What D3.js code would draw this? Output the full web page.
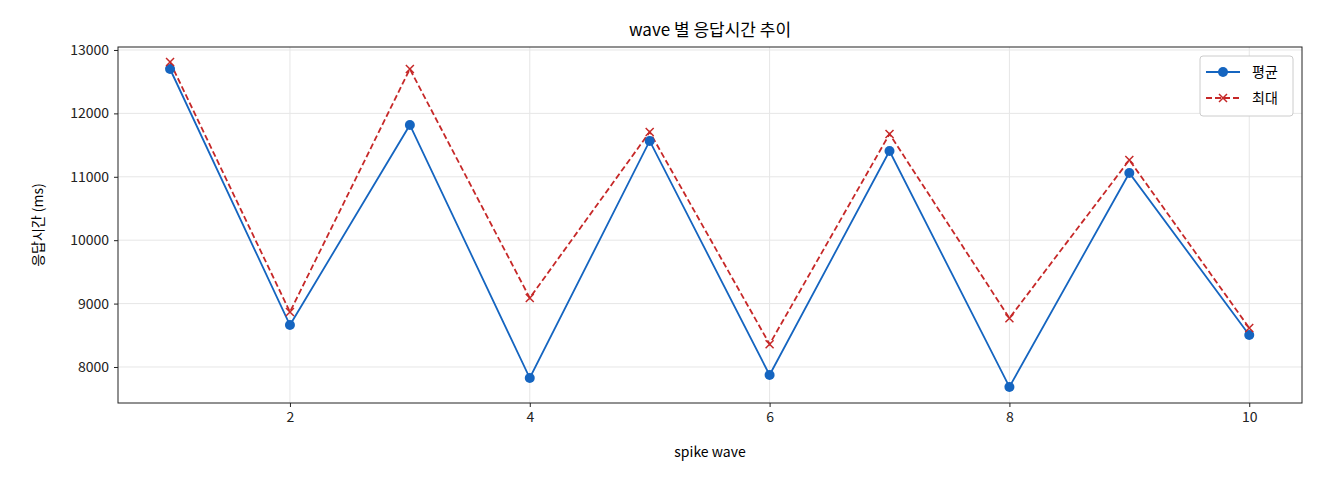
<!DOCTYPE html>
<html><head><meta charset="utf-8">
<script src="https://cdn.jsdelivr.net/npm/d3@7"></script>
<style>body{margin:0;background:#fff}text{font-family:"Noto Sans CJK KR","DejaVu Sans",sans-serif}</style>
</head><body><svg id="c" width="1320" height="480"></svg>
<script>
const waves=[1,2,3,4,5,6,7,8,9,10];
const avgValues=[12700,8662,11817,7826,11565,7874,11407,7685,11060,8505];
const maxValues=[12810,8867,12700,9088,11707,8360,11675,8770,11265,8615];
const xTicks=[2,4,6,8,10];
const yTicks=[8000,9000,10000,11000,12000,13000];
const svg=d3.select("#c");
const L=118,R=1302,T=47,B=403;
const x=d3.scaleLinear().domain([0.566,10.44]).range([L,R]);
const y=d3.scaleLinear().domain([7432,13047]).range([B,T]);
const g=svg.append("g");
g.selectAll(".gx").data(xTicks).enter().append("line").attr("x1",d=>x(d)).attr("x2",d=>x(d)).attr("y1",T).attr("y2",B).attr("stroke","#e6e6e6");
g.selectAll(".gy").data(yTicks).enter().append("line").attr("y1",d=>y(d)).attr("y2",d=>y(d)).attr("x1",L).attr("x2",R).attr("stroke","#e6e6e6");
const xa=svg.append("g").attr("transform",`translate(0,${B})`).call(d3.axisBottom(x).tickValues(xTicks).tickSize(4).tickPadding(5));
const ya=svg.append("g").attr("transform",`translate(${L},0)`).call(d3.axisLeft(y).tickValues(yTicks).tickSize(4).tickPadding(5).tickFormat(d3.format("d")));
[xa,ya].forEach(a=>{a.select(".domain").remove();a.selectAll("text").attr("font-size",14).attr("fill","#222").style("font-family","'Noto Sans CJK KR',sans-serif");a.selectAll("line").attr("stroke","#222");});
svg.append("rect").attr("x",L).attr("y",T).attr("width",R-L).attr("height",B-T).attr("fill","none").attr("stroke","#222");
const line=d3.line().x((d,i)=>x(waves[i])).y(d=>y(d));
svg.append("path").datum(maxValues).attr("d",line).attr("fill","none").attr("stroke","#c62828").attr("stroke-width",1.8).attr("stroke-dasharray","6,3");
svg.append("path").datum(avgValues).attr("d",line).attr("fill","none").attr("stroke","#1565c0").attr("stroke-width",1.8);
svg.selectAll(".dot").data(avgValues).enter().append("circle").attr("cx",(d,i)=>x(waves[i])).attr("cy",d=>y(d)).attr("r",5).attr("fill","#1565c0");
const cross=(sel,cx,cy)=>{sel.append("path").attr("d",`M${cx-4},${cy-4}L${cx+4},${cy+4}M${cx-4},${cy+4}L${cx+4},${cy-4}`).attr("stroke","#c62828").attr("stroke-width",1.5);};
maxValues.forEach((d,i)=>cross(svg,x(waves[i]),y(d)));
svg.append("text").attr("x",(L+R)/2).attr("y",36).attr("text-anchor","middle").attr("font-size",17).text("wave 별 응답시간 추이");
svg.append("text").attr("x",(L+R)/2).attr("y",457).attr("text-anchor","middle").attr("font-size",14).text("spike wave");
svg.append("text").attr("transform",`translate(43,${(T+B)/2}) rotate(-90)`).attr("text-anchor","middle").attr("font-size",14).text("응답시간 (ms)");
const lg=svg.append("g").attr("transform","translate(1200,56)");
lg.append("rect").attr("width",93).attr("height",60).attr("rx",3).attr("fill","#fff").attr("stroke","#ccc");
lg.append("line").attr("x1",6).attr("x2",40).attr("y1",16).attr("y2",16).attr("stroke","#1565c0").attr("stroke-width",1.8);
lg.append("circle").attr("cx",23).attr("cy",16).attr("r",5).attr("fill","#1565c0");
lg.append("text").attr("x",52).attr("y",21).attr("font-size",14).text("평균");
lg.append("line").attr("x1",6).attr("x2",40).attr("y1",42).attr("y2",42).attr("stroke","#c62828").attr("stroke-width",1.8).attr("stroke-dasharray","6,3");
cross(lg,23,42);
lg.append("text").attr("x",52).attr("y",47).attr("font-size",14).text("최대");
</script></body></html>
